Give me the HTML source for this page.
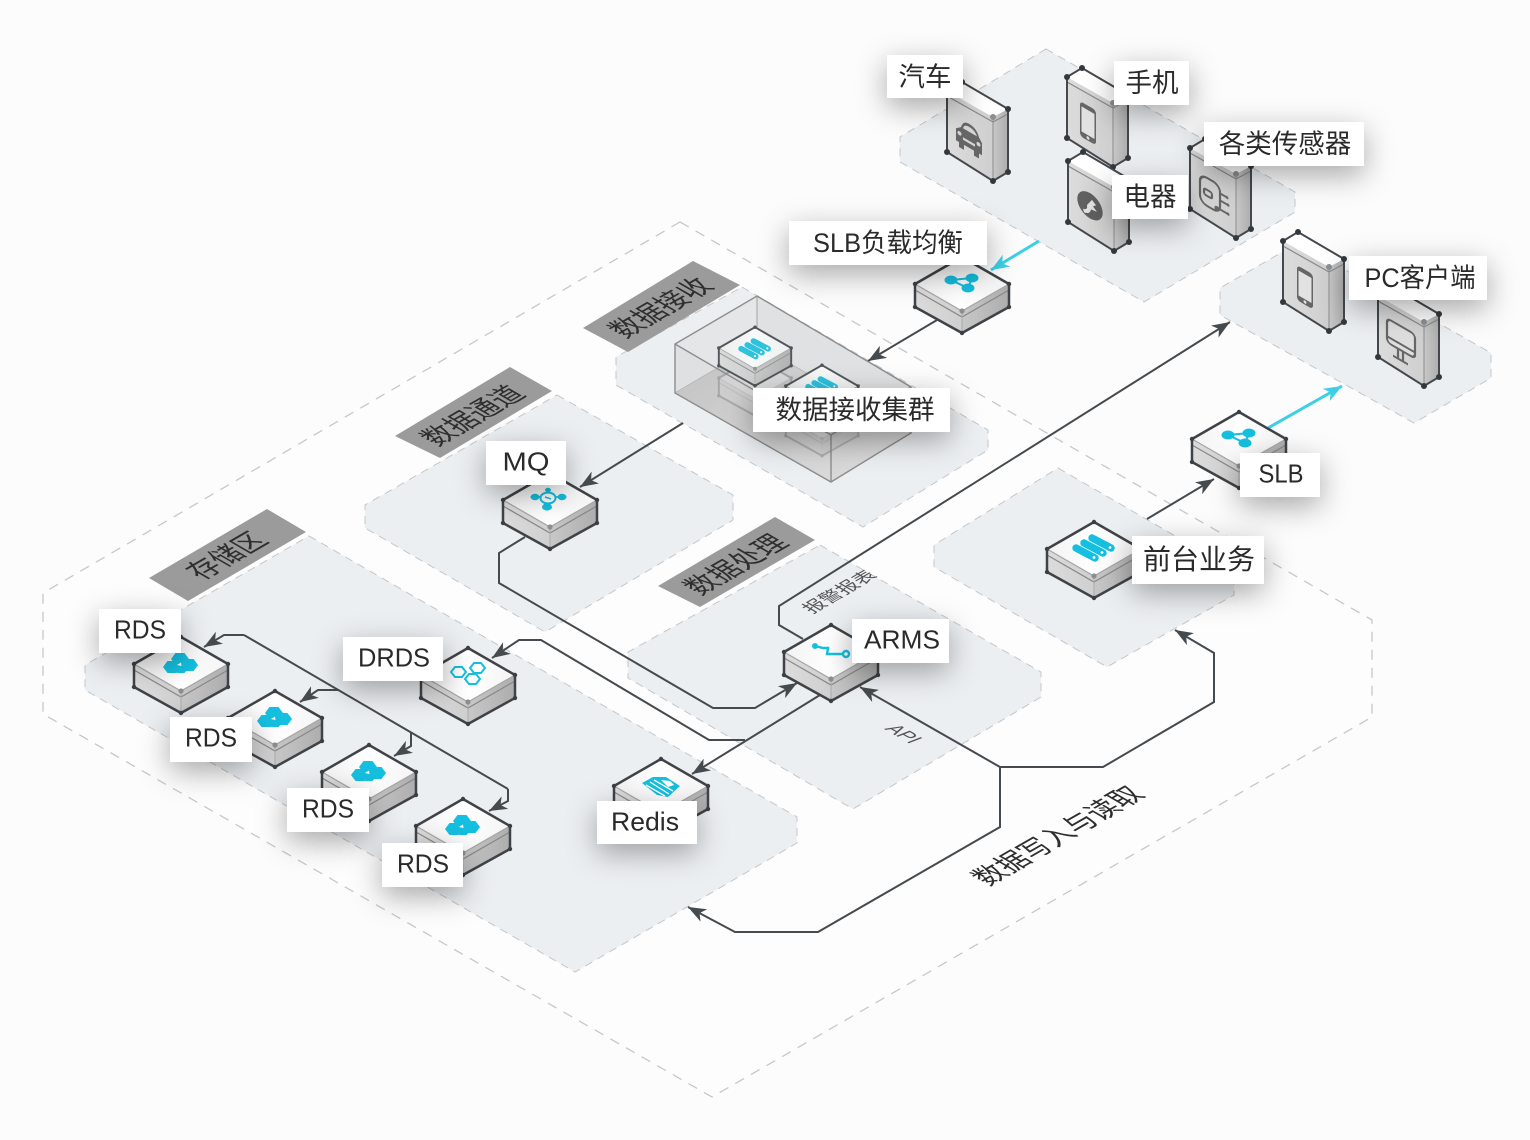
<!DOCTYPE html>
<html lang="zh"><head><meta charset="utf-8"><title>架构图</title>
<style>
html,body{margin:0;padding:0;background:#fcfcfc}
svg{display:block}
text{font-family:"Liberation Sans","Noto Sans CJK SC",sans-serif;fill:#2a2a2a}
.l{font-size:26.5px;text-anchor:middle}
.e{font-size:26px;text-anchor:middle}
.b{font-size:26.5px;text-anchor:middle;fill:#2e2e2e}
.r{fill:#eceff2;stroke:#c4c6c8;stroke-width:1;stroke-dasharray:8 6}
.c{fill:none;stroke:#454a4e;stroke-width:2;marker-end:url(#ah)}
.y{fill:none;stroke:#3ccfe6;stroke-width:3;marker-end:url(#ac)}
.lb{fill:#fff;filter:url(#sh)}
.i{fill:#14bfdf}
.ig{fill:none;stroke:#666;stroke-width:2.2}
</style></head><body>
<svg width="1530" height="1140" viewBox="0 0 1530 1140" xmlns="http://www.w3.org/2000/svg">
<defs>
<filter id="sh" x="-100%" y="-200%" width="300%" height="500%"><feDropShadow dx="0" dy="9" stdDeviation="15" flood-color="#000" flood-opacity=".34"/></filter>
<marker id="ah" markerUnits="userSpaceOnUse" markerWidth="20" markerHeight="14" refX="18" refY="7" orient="auto"><path d="M18,7 L0,0 L5,7 L0,14 Z" fill="#454a4e"/></marker>
<marker id="ac" markerUnits="userSpaceOnUse" markerWidth="20" markerHeight="14" refX="18" refY="7" orient="auto"><path d="M18,7 L0,0 L5,7 L0,14 Z" fill="#3ccfe6"/></marker>
<linearGradient id="gl" x1="0" x2="1" y1="0" y2="0"><stop offset="0" stop-color="#dcdcdc"/><stop offset="1" stop-color="#cfcfcf"/></linearGradient>
<linearGradient id="gr" x1="0" x2="1" y1="0" y2="0"><stop offset="0" stop-color="#c8c8c8"/><stop offset="1" stop-color="#adadad"/></linearGradient>
<linearGradient id="gt" x1="0" x2="1" y1="0" y2="0"><stop offset="0" stop-color="#f2f2f2"/><stop offset=".5" stop-color="#fff"/><stop offset="1" stop-color="#f4f4f4"/></linearGradient>
<linearGradient id="gf" x1="0" x2="1" y1="0" y2="1"><stop offset="0" stop-color="#bdbdbd"/><stop offset=".55" stop-color="#d8d8d8"/><stop offset="1" stop-color="#e6e6e6"/></linearGradient>
<g id="box">
  <polygon points="-47,0 0,27 0,49 -47,23" fill="url(#gl)"/>
  <polygon points="47,0 0,27 0,49 47,23" fill="url(#gr)"/>
  <polygon points="0,-27 47,0 0,27 -47,0" fill="url(#gt)"/>
  <path d="M-47,0 L0,27 L47,0" fill="none" stroke="#a6a6a6" stroke-width="1.2"/>
  <path d="M-47,6 L0,33 L47,6" fill="none" stroke="#888" stroke-width="1.2"/>
  <path d="M0,27 V49" stroke="#aaa" stroke-width="1"/>
  <path d="M-47,0 L0,-27 L47,0 V23 L0,49 L-47,23 Z" fill="none" stroke="#3f4347" stroke-width="2.5" stroke-linejoin="round"/>
  <g fill="#3a3f44"><circle cx="-47" cy="0" r="2.2"/><circle cx="47" cy="0" r="2.2"/><circle cx="0" cy="-27" r="2.2"/><circle cx="-47" cy="23" r="2.2"/><circle cx="47" cy="23" r="2.2"/><circle cx="0" cy="49" r="2.2"/></g>
  <circle cx="0" cy="27" r="2.6" fill="#8a8f94"/>
</g>
<g id="tall">
  <polygon points="0,0 46,26 46,90 0,61" fill="url(#gl)"/>
  <polygon points="46,26 61,18 61,81 46,90" fill="url(#gr)"/>
  <polygon points="0,0 15,-9 61,18 46,26" fill="#fff"/>
  <path d="M0,5 L46,31 L61,23" fill="none" stroke="#888" stroke-width="1.2"/>
  <path d="M0,0 L15,-9 L61,18 V81 L46,90 L0,61 Z" fill="none" stroke="#44484c" stroke-width="2"/>
  <path d="M46,26 V90" stroke="#8c8c8c" stroke-width="1"/>
  <g fill="#33383c"><circle cx="0" cy="0" r="3"/><circle cx="15" cy="-9" r="3"/><circle cx="61" cy="18" r="3"/><circle cx="0" cy="61" r="3"/><circle cx="61" cy="81" r="3"/><circle cx="46" cy="90" r="3"/></g>
  <circle cx="46" cy="26" r="3" fill="#8a8f94"/>
</g>
<g id="islb" class="i">
  <path d="M-11,-4 L10,-6 L6,4 Z" fill="none" stroke="#14bfdf" stroke-width="2"/>
  <ellipse cx="-11" cy="-4" rx="6.5" ry="4.5"/><ellipse cx="10" cy="-6" rx="6.5" ry="4.5"/><ellipse cx="6" cy="4" rx="6.5" ry="4.5"/>
</g>
<g id="irds" class="i">
  <polygon points="-18,3 -13.500,-3 -4.500,-3 0,3 -4.500,9 -13.500,9"/>
  <polygon points="-10,-5 -5.500,-11 3.500,-11 8,-5 3.500,1 -5.500,1"/>
  <polygon points="-1,1 3.500,-5 12.500,-5 17,1 12.500,7 3.500,7"/>
  <polygon points="-7,5 -3.500,1 3.500,1 7,5 3.500,9 -3.500,9"/>
  <polygon points="-4,1 0,-1.500 0.500,2" fill="#fff"/>
</g>
<g id="isrv">
  <path d="M-18,1 L1,11 M-10,-4 L9,6 M-2,-9 L17,1" fill="none" stroke="#14bfdf" stroke-width="7.400" stroke-linecap="round"/>
  <g fill="#fff"><circle cx="0" cy="10.500" r="1.400"/><circle cx="8" cy="5.500" r="1.400"/><circle cx="16" cy="0.500" r="1.400"/></g>
</g>
</defs>

<rect width="1530" height="1140" fill="#fcfcfc"/>

<!-- outer dashed -->
<polygon points="680,222 1372,620 1372,717 712,1097 43,714 43,593" fill="#fdfdfd" stroke="#c8c8c8" stroke-width="1.3" stroke-dasharray="10 8"/>

<!-- regions -->
<polygon class="r" points="1046,49 1295,192 1295,212 1144,302 900,162 900,137"/>
<polygon class="r" points="1298,243 1491,353 1491,378 1414,423 1220,315 1220,288"/>
<polygon class="r" points="742,287 988,430 988,450 863,527 616,385 616,357"/>
<polygon class="r" points="557,395 733,495 733,520 545,632 365,528 365,505"/>
<polygon class="r" points="820,545 1041,672 1041,697 853,809 628,678 628,652"/>
<polygon class="r" points="1058,468 1234,570 1234,595 1107,667 934,567 934,545"/>
<polygon class="r" points="309,536 797,817 797,843 575,972 85,690 85,665"/>

<!-- bands -->
<polygon points="583,328 693,261 740,285 628,352" fill="#9b9b9b"/>
<polygon points="395,436 510,367 552,391 440,458" fill="#9b9b9b"/>
<polygon points="658,586 775,517 815,540 700,607" fill="#9b9b9b"/>
<polygon points="149,578 267,509 306,532 188,601" fill="#9b9b9b"/>
<text class="b" transform="matrix(.85,-.49,1,.58,670,313)">数据接收</text>
<text class="b" transform="matrix(.85,-.49,1,.58,482,421)">数据通道</text>
<text class="b" transform="matrix(.85,-.49,1,.58,745,570)">数据处理</text>
<text class="b" transform="matrix(.85,-.49,1,.58,236,561)">存储区</text>
<text class="b" transform="matrix(.85,-.49,1,.58,1067,841)">数据写入与读取</text>
<text style="font-size:19px;text-anchor:middle;fill:#555" transform="matrix(.866,-.5,.866,.5,845,595)">报警报表</text>
<text style="font-size:19px;text-anchor:middle;fill:#555;font-style:italic" transform="matrix(.866,.5,-.866,.5,898,737)">API</text>

<!-- connectors -->
<polyline class="c" points="937,320 868,361"/>
<polyline class="c" points="683,423 580,487"/>
<polyline class="y" points="1039,241 991,270"/>
<polyline class="y" points="1268,428 1342,386"/>
<polyline class="c" points="525,537 499,553 499,583 713,708 755,708 797,683"/>
<polyline class="c" points="803,639 779,625 779,606 1230,322"/>
<polyline class="c" points="820,695 692,774"/>
<polyline class="c" points="745,740 709,740 541,640 519,640 492,658"/>
<polyline class="c" points="508,789 244,635" style="marker-end:none"/>
<polyline class="c" points="244,635 224,635 204,647"/>
<polyline class="c" points="508,789 508,801 489,811"/>
<polyline class="c" points="338,690 318,690 300,702"/>
<polyline class="c" points="411,733 411,746 394,756"/>
<polyline class="c" points="1000,767 860,687"/>
<polyline class="c" points="1000,767 1000,827 818,932 735,932 688,907"/>
<polyline class="c" points="1000,767 1103,767 1214,702 1214,653 1175,630"/>
<polyline class="c" points="1147,519 1214,479"/>

<!-- glass cluster -->
<polygon points="757,296 675,344 675,393 757,345" fill="#e8e9eb" stroke="#999"/>
<polygon points="757,296 911,387 911,433 757,345" fill="#e2e3e6" stroke="#999"/>
<polygon points="757,345 675,393 831,482 911,433" fill="url(#gf)"/>
<use href="#box" transform="translate(755,378) scale(.77)" opacity=".35"/>
<use href="#box" transform="translate(822,418) scale(.77)" opacity=".35"/>
<use href="#box" transform="translate(755,348) scale(.77)"/>
<use href="#isrv" transform="translate(755,348) scale(.77)"/>
<use href="#box" transform="translate(822,386) scale(.77)"/>
<use href="#isrv" transform="translate(822,386) scale(.77)"/>
<polygon points="757,296 911,387 831,435 675,344" fill="#cfd2d6" opacity=".14"/>
<polygon points="675,344 831,435 831,482 675,393" fill="#c8c8c8" opacity=".28"/>
<polygon points="831,435 911,387 911,433 831,482" fill="#c8c8c8" opacity=".35"/>
<path d="M757,296 L911,387 V433 L831,482 L675,393 V344 Z M675,344 L831,435 V482 M831,435 L911,387" fill="none" stroke="#8d8d8d" stroke-width="1.4"/>

<!-- flat nodes -->
<use href="#box" x="962" y="284"/><use href="#islb" x="962" y="284"/>
<use href="#box" x="1239" y="439"/><use href="#islb" x="1239" y="439"/>
<use href="#box" x="550" y="500"/>
<g class="i"><path d="M535,497 H562 M548,490 V507" stroke="#14bfdf" stroke-width="1.8"/><ellipse cx="535" cy="497" rx="4.500" ry="3.200"/><ellipse cx="562" cy="497" rx="4.500" ry="3.200"/><ellipse cx="548" cy="490" rx="3" ry="2.200"/><ellipse cx="547" cy="507" rx="5" ry="3.600"/><ellipse cx="548" cy="498" rx="7.500" ry="5.500" fill="#fff" stroke="#14bfdf" stroke-width="2"/><path d="M545,497 L551,499" stroke="#14bfdf" stroke-width="1.5"/></g>
<use href="#box" x="1094" y="549"/><use href="#isrv" x="1094" y="547"/>
<use href="#box" x="831" y="652"/>
<g transform="translate(831,652)" fill="none" stroke="#14bfdf" stroke-width="2.4"><polyline points="-16,-6 -8,-4 -3,-4 -4,2 12,2"/><circle cx="15" cy="2" r="3"/><circle cx="-16" cy="-6" r="1.800" fill="#14bfdf"/></g>
<use href="#box" x="468" y="675"/>
<g transform="translate(468,675)" fill="none" stroke="#14bfdf" stroke-width="2"><polygon points="-17,-3 -13,-8 -6,-8 -2,-3 -6,2 -13,2"/><polygon points="2,-7 6,-12 13,-12 17,-7 13,-2 6,-2"/><polygon points="-3,4 1,-1 8,-1 12,4 8,9 1,9"/></g>
<use href="#box" x="181" y="664"/><use href="#irds" x="181" y="664"/>
<use href="#box" x="275" y="718"/><use href="#irds" x="275" y="718"/>
<use href="#box" x="369" y="772"/><use href="#irds" x="369" y="772"/>
<use href="#box" x="463" y="826"/><use href="#irds" x="463" y="826"/>
<use href="#box" x="661" y="786"/>
<g transform="translate(661,787)"><polygon points="-19,-4 -8,-10 5,-10 19,-1 7,10 -4,8" class="i"/><path d="M-15,-2 L4,9 M-11,-5 L8,7 M-7,-7 L12,4" stroke="#fff" stroke-width="1.3"/><path d="M0,-7 L9,-6 L13,-2 L7,0 Z" fill="#fff"/></g>

<!-- tall nodes -->
<use href="#tall" x="947" y="91"/>
<g transform="matrix(1,.58,0,1,947,91)" fill="#666"><path d="M14,28 Q16,20 22,20 Q30,20 32,28 L35,32 V44 H32 V49 H27 V44 H17 V49 H12 V44 H9 V32 Z"/><path d="M16,28 Q17,23 22,23 Q28,23 30,28 Z" fill="#d6d6d6"/><circle cx="12.500" cy="35" r="2" fill="#d6d6d6"/><circle cx="31.500" cy="35" r="2" fill="#d6d6d6"/><rect x="16" y="37" width="12" height="2.500" fill="#d6d6d6"/></g>
<use href="#tall" x="1067" y="77"/>
<g transform="matrix(1,.58,0,1,1067,77)"><rect x="13" y="16.500" width="16" height="35" rx="3.500" fill="#666"/><rect x="14.500" y="21" width="13" height="25" fill="#e2e2e2"/><circle cx="21" cy="48.800" r="1.500" fill="#e2e2e2"/></g>
<use href="#tall" x="1068" y="161"/>
<g transform="matrix(1,.58,0,1,1068,161)"><circle cx="22" cy="32" r="12.700" fill="#606060"/><path d="M15,39 Q20,38 19,33 L24,25 L28,28 L25,31 L29,34 L23,35 Q22,41 16,42 Z" fill="#e2e2e2"/></g>
<use href="#tall" x="1190" y="148"/>
<g transform="matrix(1,.58,0,1,1190,148)" class="ig"><rect x="10" y="20" width="20" height="28" rx="7"/><rect x="14" y="32" width="8" height="6" rx="2"/><path d="M30,28 H37 M30,35 H38 M30,44 H38 M25,48 L28,43"/><g fill="#666" stroke="none"><circle cx="37" cy="28" r="1.500"/><circle cx="38" cy="35" r="1.500"/><circle cx="38" cy="44" r="1.500"/><circle cx="27" cy="45" r="2.500"/></g></g>
<use href="#tall" x="1283" y="241"/>
<g transform="matrix(1,.58,0,1,1283,241)"><rect x="14" y="16" width="16" height="35" rx="3.500" fill="#666"/><rect x="15.500" y="20.500" width="13" height="25" fill="#e2e2e2"/><circle cx="22" cy="48.300" r="1.500" fill="#e2e2e2"/></g>
<use href="#tall" x="1378" y="296"/>
<g transform="matrix(1,.58,0,1,1378,296)" class="ig"><rect x="9" y="17" width="28" height="24" rx="4" fill="#dedede"/><path d="M9,35 H37"/><path d="M20,41 V50 M25,41 V50 M15,51 H30"/></g>

<!-- labels -->
<rect class="lb" x="887" y="55" width="76" height="43"/><text class="l" x="925" y="86">汽车</text>
<rect class="lb" x="1114" y="61" width="75" height="44"/><text class="l" x="1152" y="92">手机</text>
<rect class="lb" x="1204" y="122" width="160" height="44"/><text class="l" x="1285" y="153">各类传感器</text>
<rect class="lb" x="1112" y="175" width="76" height="44"/><text class="l" x="1150" y="206">电器</text>
<rect class="lb" x="789" y="221" width="198" height="44"/><text class="l" x="888" y="252" textLength="150" lengthAdjust="spacingAndGlyphs">SLB负载均衡</text>
<rect class="lb" x="1349" y="256" width="138" height="44"/><text class="l" x="1420" y="287" textLength="111" lengthAdjust="spacingAndGlyphs">PC客户端</text>
<rect class="lb" x="753" y="388" width="197" height="44"/><text class="l" x="855" y="419">数据接收集群</text>
<rect class="lb" x="486" y="441" width="80" height="44"/><text class="e" x="526" y="470.500" textLength="47" lengthAdjust="spacingAndGlyphs">MQ</text>
<rect class="lb" x="1132" y="536" width="132" height="48"/><text class="l" style="font-size:28px" x="1199" y="569">前台业务</text>
<rect class="lb" x="1240" y="453" width="80" height="44"/><text class="e" x="1281" y="482.500" textLength="45" lengthAdjust="spacingAndGlyphs">SLB</text>
<rect class="lb" x="852" y="619" width="97" height="44"/><text class="e" x="902" y="648.500" textLength="76" lengthAdjust="spacingAndGlyphs">ARMS</text>
<rect class="lb" x="99" y="609" width="82" height="44"/><text class="e" x="140" y="638.500" textLength="52" lengthAdjust="spacingAndGlyphs">RDS</text>
<rect class="lb" x="343" y="637" width="100" height="44"/><text class="e" x="394" y="666.500" textLength="72" lengthAdjust="spacingAndGlyphs">DRDS</text>
<rect class="lb" x="170" y="717" width="82" height="45"/><text class="e" x="211" y="746.500" textLength="52" lengthAdjust="spacingAndGlyphs">RDS</text>
<rect class="lb" x="287" y="788" width="82" height="44"/><text class="e" x="328" y="817.500" textLength="52" lengthAdjust="spacingAndGlyphs">RDS</text>
<rect class="lb" x="382" y="843" width="81" height="44"/><text class="e" x="423" y="872.500" textLength="52" lengthAdjust="spacingAndGlyphs">RDS</text>
<rect class="lb" x="597" y="801" width="100" height="43"/><text class="e" x="645" y="830.500" textLength="68" lengthAdjust="spacingAndGlyphs">Redis</text>
</svg>
</body></html>
